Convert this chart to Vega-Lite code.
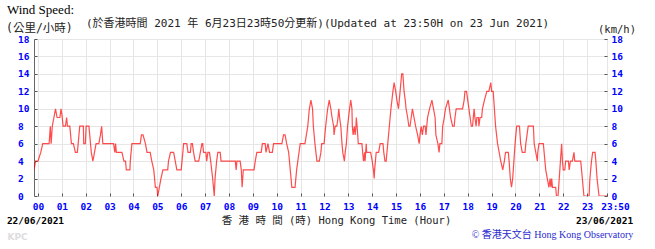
{
  "$schema": "https://vega.github.io/schema/vega-lite/v6.json",
  "width": 573,
  "height": 157,
  "autosize": {"type": "none"},
  "padding": {"left": 34, "top": 39, "right": 48, "bottom": 53},
  "background": "white",
  "title": {"text": "Wind Speed:", "anchor": "start", "frame": "group", "dx": -27, "dy": 4, "offset": 4, "font": "Liberation Serif", "fontSize": 13, "fontWeight": "normal", "color": "#000"},
  "config": {"view": {"stroke": "#666", "strokeWidth": 1}},
  "data": {"values": [
    {"t": -10, "v": 3}, {"t": -6, "v": 4}, {"t": 0, "v": 4}, {"t": 7, "v": 5}, {"t": 12, "v": 6}, {"t": 28, "v": 6}, {"t": 31, "v": 8}, {"t": 33, "v": 6}, {"t": 36, "v": 8}, {"t": 40, "v": 9}, {"t": 44, "v": 10}, {"t": 48, "v": 9}, {"t": 55, "v": 9}, {"t": 58, "v": 10}, {"t": 61, "v": 9}, {"t": 63, "v": 8}, {"t": 69, "v": 8}, {"t": 72, "v": 9}, {"t": 74, "v": 8}, {"t": 80, "v": 8}, {"t": 84, "v": 6}, {"t": 89, "v": 6}, {"t": 94, "v": 5}, {"t": 99, "v": 5}, {"t": 101, "v": 6}, {"t": 105, "v": 8}, {"t": 114, "v": 8}, {"t": 115, "v": 6}, {"t": 119, "v": 6}, {"t": 121, "v": 8}, {"t": 128, "v": 8}, {"t": 132, "v": 6}, {"t": 134, "v": 5}, {"t": 138, "v": 4}, {"t": 142, "v": 5}, {"t": 146, "v": 6}, {"t": 153, "v": 6}, {"t": 157, "v": 7}, {"t": 160, "v": 8}, {"t": 163, "v": 6}, {"t": 190, "v": 6}, {"t": 193, "v": 5}, {"t": 195, "v": 6}, {"t": 197, "v": 5}, {"t": 211, "v": 5}, {"t": 216, "v": 4}, {"t": 220, "v": 4}, {"t": 222, "v": 3}, {"t": 231, "v": 3}, {"t": 232, "v": 4}, {"t": 236, "v": 6}, {"t": 257, "v": 6}, {"t": 260, "v": 7}, {"t": 264, "v": 7}, {"t": 270, "v": 6}, {"t": 274, "v": 5}, {"t": 282, "v": 5}, {"t": 286, "v": 4}, {"t": 291, "v": 3}, {"t": 295, "v": 1}, {"t": 299, "v": 1}, {"t": 301, "v": 0}, {"t": 305, "v": 1}, {"t": 309, "v": 2}, {"t": 314, "v": 3}, {"t": 326, "v": 3}, {"t": 328, "v": 4}, {"t": 333, "v": 5}, {"t": 341, "v": 5}, {"t": 345, "v": 4},
    {"t": 349, "v": 3}, {"t": 360, "v": 3}, {"t": 362, "v": 4}, {"t": 366, "v": 6}, {"t": 374, "v": 6}, {"t": 377, "v": 5}, {"t": 383, "v": 5}, {"t": 385, "v": 6}, {"t": 388, "v": 6}, {"t": 391, "v": 5}, {"t": 395, "v": 4}, {"t": 404, "v": 4}, {"t": 408, "v": 5}, {"t": 412, "v": 6}, {"t": 414, "v": 6}, {"t": 416, "v": 5}, {"t": 422, "v": 5}, {"t": 424, "v": 4}, {"t": 427, "v": 5}, {"t": 431, "v": 5}, {"t": 434, "v": 4}, {"t": 439, "v": 2}, {"t": 443, "v": 0}, {"t": 445, "v": 2}, {"t": 449, "v": 4}, {"t": 452, "v": 5}, {"t": 458, "v": 5}, {"t": 460, "v": 4}, {"t": 496, "v": 4}, {"t": 498, "v": 3}, {"t": 500, "v": 4}, {"t": 508, "v": 4}, {"t": 511, "v": 3}, {"t": 513, "v": 1}, {"t": 516, "v": 3}, {"t": 543, "v": 3}, {"t": 546, "v": 4}, {"t": 550, "v": 5}, {"t": 561, "v": 5}, {"t": 564, "v": 6}, {"t": 571, "v": 6}, {"t": 573, "v": 5}, {"t": 578, "v": 6}, {"t": 582, "v": 5}, {"t": 589, "v": 5}, {"t": 592, "v": 6}, {"t": 613, "v": 6}, {"t": 617, "v": 7}, {"t": 621, "v": 7}, {"t": 625, "v": 6}, {"t": 630, "v": 5}, {"t": 634, "v": 3}, {"t": 638, "v": 1}, {"t": 646, "v": 1}, {"t": 650, "v": 3}, {"t": 653, "v": 4}, {"t": 656, "v": 5}, {"t": 659, "v": 6}, {"t": 671, "v": 6}, {"t": 678, "v": 8}, {"t": 682, "v": 10}, {"t": 686, "v": 11}, {"t": 690, "v": 10}, {"t": 692, "v": 8}, {"t": 696, "v": 6}, {"t": 701, "v": 4}, {"t": 707, "v": 4}, {"t": 711, "v": 5}, {"t": 713, "v": 6}, {"t": 719, "v": 6},
    {"t": 723, "v": 8}, {"t": 728, "v": 10}, {"t": 732, "v": 11}, {"t": 736, "v": 10}, {"t": 739, "v": 9}, {"t": 743, "v": 8}, {"t": 744, "v": 7}, {"t": 747, "v": 8}, {"t": 751, "v": 8}, {"t": 754, "v": 9}, {"t": 756, "v": 10}, {"t": 758, "v": 9}, {"t": 761, "v": 8}, {"t": 764, "v": 6}, {"t": 766, "v": 5}, {"t": 770, "v": 4}, {"t": 772, "v": 5}, {"t": 775, "v": 6}, {"t": 778, "v": 8}, {"t": 783, "v": 10}, {"t": 786, "v": 11}, {"t": 789, "v": 10}, {"t": 790, "v": 8}, {"t": 792, "v": 7}, {"t": 795, "v": 8}, {"t": 797, "v": 7}, {"t": 799, "v": 8}, {"t": 800, "v": 9}, {"t": 802, "v": 8}, {"t": 805, "v": 6}, {"t": 814, "v": 6}, {"t": 816, "v": 5}, {"t": 818, "v": 4}, {"t": 821, "v": 5}, {"t": 822, "v": 4}, {"t": 825, "v": 6}, {"t": 826, "v": 5}, {"t": 836, "v": 5}, {"t": 840, "v": 4}, {"t": 843, "v": 3}, {"t": 845, "v": 2}, {"t": 846, "v": 3}, {"t": 850, "v": 5}, {"t": 856, "v": 5}, {"t": 860, "v": 6}, {"t": 867, "v": 6}, {"t": 869, "v": 5}, {"t": 872, "v": 4}, {"t": 875, "v": 4}, {"t": 879, "v": 6}, {"t": 883, "v": 8}, {"t": 887, "v": 10}, {"t": 892, "v": 12}, {"t": 895, "v": 13}, {"t": 899, "v": 12}, {"t": 902, "v": 11}, {"t": 906, "v": 10}, {"t": 910, "v": 12}, {"t": 914, "v": 14}, {"t": 917, "v": 14}, {"t": 920, "v": 12}, {"t": 923, "v": 11}, {"t": 925, "v": 10}, {"t": 929, "v": 9}, {"t": 932, "v": 8}, {"t": 935, "v": 8}, {"t": 938, "v": 9}, {"t": 941, "v": 10}, {"t": 945, "v": 9}, {"t": 949, "v": 8}, {"t": 954, "v": 7}, {"t": 958, "v": 6}, {"t": 960, "v": 7}, {"t": 963, "v": 8}, {"t": 966, "v": 7}, {"t": 969, "v": 8}, {"t": 973, "v": 8}, {"t": 975, "v": 7}, {"t": 979, "v": 9}, {"t": 984, "v": 10}, {"t": 990, "v": 11}, {"t": 994, "v": 10}, {"t": 998, "v": 9}, {"t": 1000, "v": 7}, {"t": 1005, "v": 6}, {"t": 1008, "v": 5}, {"t": 1010, "v": 6}, {"t": 1015, "v": 6}, {"t": 1017, "v": 8}, {"t": 1021, "v": 9}, {"t": 1024, "v": 10}, {"t": 1031, "v": 11}, {"t": 1034, "v": 10}, {"t": 1037, "v": 9}, {"t": 1042, "v": 8}, {"t": 1046, "v": 8}, {"t": 1048, "v": 9}, {"t": 1051, "v": 10}, {"t": 1067, "v": 10}, {"t": 1071, "v": 11}, {"t": 1073, "v": 12}, {"t": 1077, "v": 12}, {"t": 1080, "v": 11}, {"t": 1083, "v": 10}, {"t": 1086, "v": 9},
    {"t": 1089, "v": 8}, {"t": 1092, "v": 8}, {"t": 1094, "v": 9}, {"t": 1096, "v": 10}, {"t": 1098, "v": 9}, {"t": 1101, "v": 8}, {"t": 1103, "v": 9}, {"t": 1107, "v": 9}, {"t": 1108, "v": 8}, {"t": 1111, "v": 9}, {"t": 1115, "v": 9}, {"t": 1117, "v": 10}, {"t": 1122, "v": 11}, {"t": 1128, "v": 12}, {"t": 1133, "v": 12}, {"t": 1138, "v": 13}, {"t": 1140, "v": 12}, {"t": 1144, "v": 12}, {"t": 1147, "v": 10}, {"t": 1150, "v": 8}, {"t": 1155, "v": 6}, {"t": 1159, "v": 5}, {"t": 1163, "v": 4}, {"t": 1168, "v": 3}, {"t": 1172, "v": 4}, {"t": 1175, "v": 5}, {"t": 1182, "v": 5}, {"t": 1184, "v": 4}, {"t": 1187, "v": 2}, {"t": 1190, "v": 1}, {"t": 1193, "v": 2}, {"t": 1196, "v": 4}, {"t": 1199, "v": 6}, {"t": 1203, "v": 8}, {"t": 1210, "v": 8}, {"t": 1213, "v": 6}, {"t": 1217, "v": 5}, {"t": 1224, "v": 5}, {"t": 1226, "v": 6}, {"t": 1232, "v": 8}, {"t": 1245, "v": 8}, {"t": 1247, "v": 6}, {"t": 1251, "v": 5}, {"t": 1255, "v": 4}, {"t": 1256, "v": 5}, {"t": 1259, "v": 6}, {"t": 1270, "v": 6}, {"t": 1272, "v": 5}, {"t": 1276, "v": 3}, {"t": 1280, "v": 2}, {"t": 1284, "v": 1}, {"t": 1287, "v": 2}, {"t": 1289, "v": 1}, {"t": 1291, "v": 2}, {"t": 1293, "v": 1}, {"t": 1301, "v": 1}, {"t": 1303, "v": 0}, {"t": 1307, "v": 0}, {"t": 1310, "v": 2}, {"t": 1313, "v": 4}, {"t": 1316, "v": 6}, {"t": 1318, "v": 4}, {"t": 1320, "v": 3}, {"t": 1324, "v": 3}, {"t": 1326, "v": 4}, {"t": 1333, "v": 4}, {"t": 1335, "v": 3}, {"t": 1338, "v": 4}, {"t": 1343, "v": 4}, {"t": 1347, "v": 5}, {"t": 1349, "v": 4}, {"t": 1364, "v": 4}, {"t": 1368, "v": 2}, {"t": 1372, "v": 0}, {"t": 1385, "v": 0}, {"t": 1387, "v": 2}, {"t": 1391, "v": 4}, {"t": 1394, "v": 5}, {"t": 1400, "v": 5}, {"t": 1402, "v": 4}, {"t": 1405, "v": 2}, {"t": 1410, "v": 0}, {"t": 1430, "v": 0}
  ]},
  "layer": [
    {
      "mark": {"type": "line", "color": "#ff0000", "strokeWidth": 1.2, "opacity": 0.7, "clip": true},
      "encoding": {
        "x": {"field": "t", "type": "quantitative", "scale": {"domain": [-10, 1430], "nice": false, "zero": false},
          "axis": {"orient": "bottom", "values": [0,60,120,180,240,300,360,420,480,540,600,660,720,780,840,900,960,1020,1080,1140,1200,1260,1320,1380,1430],
            "labelExpr": "datum.value == 1430 ? '23:50' : (datum.value < 600 ? '0' : '') + floor(datum.value / 60)",
            "labelFont": "DejaVu Sans Mono", "labelFontSize": 9.5, "labelFontWeight": "bold", "labelColor": "#0000ff",
            "labelOffset": {"condition": {"test": "datum.value == 1430", "value": 8}, "value": 0},
            "labelFlush": false, "labelOverlap": false, "labelPadding": 8,
            "tickSize": -3, "tickColor": "#555", "domain": false,
            "grid": true, "gridColor": "#e6e6e6",
            "title": "香 港 時 間 (時) Hong Kong Time (Hour)", "titleFont": "DejaVu Sans Mono, Noto Sans CJK TC", "titleFontSize": 10.5, "titleFontWeight": "normal", "titleColor": "#222",
            "titleX": 302, "titleY": 27, "titleAlign": "center", "titleBaseline": "alphabetic"}},
        "y": {"field": "v", "type": "quantitative", "scale": {"domain": [0, 18], "nice": false},
          "axis": {"orient": "left", "values": [0,2,4,6,8,10,12,14,16,18],
            "labelFont": "DejaVu Sans Mono", "labelFontSize": 9.5, "labelFontWeight": "bold", "labelColor": "#0000ff",
            "labelAlign": "left", "labelPadding": 19.5, "labelFlush": false, "labelOverlap": false,
            "tickSize": -3, "tickColor": "#555", "domain": false,
            "grid": true, "gridColor": "#e6e6e6",
            "title": "KPC", "titleAngle": 0, "titleX": -17, "titleY": 200, "titleAlign": "center", "titleBaseline": "alphabetic",
            "titleFont": "DejaVu Sans", "titleFontSize": 9, "titleFontWeight": "bold", "titleColor": "#dddddd"}}
      }
    },
    {
      "mark": {"type": "line", "color": "#ff0000", "opacity": 0},
      "encoding": {
        "x": {"field": "t", "type": "quantitative",
          "axis": {"orient": "bottom", "values": [0, 1430],
            "labelExpr": "datum.value == 0 ? '22/06/2021' : '23/06/2021'",
            "labelFont": "DejaVu Sans Mono", "labelFontSize": 9.5, "labelFontWeight": "bold", "labelColor": "#000",
            "labelOffset": -3, "labelFlush": false, "labelOverlap": false, "labelPadding": 19,
            "ticks": false, "domain": false, "grid": false,
            "title": "© 香港天文台 Hong Kong Observatory", "titleFont": "Liberation Serif, Noto Sans CJK TC", "titleFontSize": 10, "titleFontWeight": "normal", "titleColor": "#2a2ad0",
            "titleX": 518, "titleY": 41, "titleAlign": "center", "titleBaseline": "alphabetic"}},
        "y": {"field": "v", "type": "quantitative",
          "axis": {"orient": "right", "values": [0,2,4,6,8,10,12,14,16,18],
            "labelFont": "DejaVu Sans Mono", "labelFontSize": 9.5, "labelFontWeight": "bold", "labelColor": "#0000ff",
            "labelPadding": 7, "labelFlush": false, "labelOverlap": false,
            "tickSize": -3, "tickColor": "#555", "domain": false, "grid": false,
            "title": "(km/h)", "titleAngle": 0, "titleX": 9.5, "titleY": -7, "titleAlign": "center", "titleBaseline": "alphabetic",
            "titleFont": "DejaVu Sans Mono", "titleFontSize": 10.5, "titleFontWeight": "normal", "titleColor": "#222"}}
      }
    },
    {
      "mark": {"type": "line", "color": "#ff0000", "opacity": 0},
      "encoding": {
        "x": {"field": "t", "type": "quantitative",
          "axis": {"orient": "top", "labels": false, "ticks": false, "domain": false, "grid": false,
            "title": "(於香港時間 2021 年 6月23日23時50分更新)(Updated at 23:50H on 23 Jun 2021)",
            "titleFont": "DejaVu Sans Mono, Noto Sans CJK TC", "titleFontSize": 11, "titleFontWeight": "normal", "titleColor": "#222",
            "titleX": 51.5, "titleY": -13, "titleAlign": "left", "titleBaseline": "alphabetic"}},
        "y": {"field": "v", "type": "quantitative",
          "axis": {"orient": "left", "labels": false, "ticks": false, "domain": false, "grid": false,
            "title": "(公里/小時)", "titleAngle": 0, "titleX": -28.5, "titleY": -8, "titleAlign": "left", "titleBaseline": "alphabetic",
            "titleFont": "DejaVu Sans Mono, Noto Sans CJK TC", "titleFontSize": 11.5, "titleFontWeight": "normal", "titleColor": "#222"}}
      }
    }
  ],
  "resolve": {"axis": {"x": "independent", "y": "independent"}}
}
